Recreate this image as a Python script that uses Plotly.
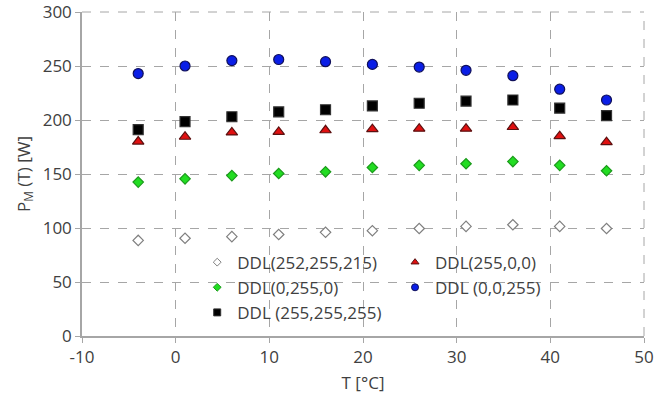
import plotly.graph_objects as go

T = [-4, 1, 6, 11, 16, 21, 26, 31, 36, 41, 46]
p_white = [88.5, 90.5, 92, 94, 96, 97.5, 99.5, 101.5, 103, 101.5, 99.5]
p_red = [180, 184.5, 188.5, 189, 190.5, 191.5, 192, 192, 193.5, 185, 179.5]
p_green = [142.5, 145.5, 148.5, 150.5, 152, 156, 158, 159.5, 161.5, 158, 153]
p_blue = [243, 250, 255, 256, 254, 251.5, 249, 246, 241, 228.5, 218.5]
p_black = [191, 198.5, 203, 207.5, 209.5, 213, 215.5, 217.5, 218.5, 211, 204]

names = ["DDL(252,255,215)", "DDL(255,0,0)", "DDL(0,255,0)", "DDL (0,0,255)", "DDL (255,255,255)"]

x_tickvals = [-10, 0, 10, 20, 30, 40, 50]
x_ticktext = ["-10", "0", "10", "20", "30", "40", "50"]
y_tickvals = [0, 50, 100, 150, 200, 250, 300]
y_ticktext = ["0", "50", "100", "150", "200", "250", "300"]

FONT = "Open Sans"
TXT = "#404040"
GRID = "#a6a6a6"

series = [
    # values, name, legend, symbol, size, fill, outline, legend marker size
    (p_white, names[0], "legend", "diamond", 8, "white", "#7f7f7f", 6),
    (p_green, names[2], "legend", "diamond", 8, "#22dd22", "#1a9a1a", 6),
    (p_black, names[4], "legend", "square", 10, "black", "#333333", 7),
    (p_red, names[1], "legend2", "triangle-up", 10, "#e01010", "#5a1010", 7),
    (p_blue, names[3], "legend2", "circle", 10, "#0a1ee6", "#10105a", 7),
]

fig = go.Figure()
for vals, nm, lg, sym, sz, fill, outl, lsz in series:
    fig.add_trace(go.Scatter(x=T, y=vals, mode="markers", name=nm, showlegend=False,
                             marker=dict(symbol=sym, size=sz, color=fill,
                                         line=dict(color=outl, width=1.2))))
for vals, nm, lg, sym, sz, fill, outl, lsz in series:
    # legend-only entry with the small legend symbol size
    fig.add_trace(go.Scatter(x=[None], y=[None], mode="markers", name=nm, legend=lg,
                             marker=dict(symbol=sym, size=lsz, color=fill,
                                         line=dict(color=outl, width=1))))

legend_common = dict(bgcolor="rgba(0,0,0,0)", font=dict(family=FONT, size=17, color=TXT),
                     itemsizing="trace", tracegroupgap=0, xanchor="left", yanchor="top",
                     itemwidth=30)

fig.update_layout(
    width=670, height=403,
    margin=dict(l=82, r=26, t=12, b=67, autoexpand=False),
    paper_bgcolor="white", plot_bgcolor="white",
    font=dict(family=FONT, size=17, color=TXT),
    showlegend=True,
    legend=dict(x=0.205, y=0.282, **legend_common),
    legend2=dict(x=0.557, y=0.282, **legend_common),
    xaxis=dict(range=[-10, 50], tickmode="array", tickvals=x_tickvals, ticktext=x_ticktext,
               automargin=False, ticklabeloverflow="allow",
               showgrid=True, gridcolor=GRID, griddash="dash", gridwidth=1,
               showline=True, linecolor=GRID, linewidth=1.5,
               ticks="outside", ticklen=5, tickcolor=GRID,
               zeroline=False, title=dict(text="T [°C]", font=dict(size=17, color=TXT), standoff=10),
               tickfont=dict(size=17, color=TXT)),
    yaxis=dict(range=[0, 300], tickmode="array", tickvals=y_tickvals, ticktext=y_ticktext,
               automargin=False, ticklabeloverflow="allow",
               showgrid=True, gridcolor=GRID, griddash="dash", gridwidth=1,
               showline=True, linecolor=GRID, linewidth=1.5,
               ticks="outside", ticklen=5, tickcolor=GRID,
               zeroline=False, title=dict(text="P<sub>M</sub> (T) [W]", font=dict(size=17, color=TXT), standoff=8),
               tickfont=dict(size=17, color=TXT)),
)

# dashed right and top borders
fig.add_shape(type="line", xref="paper", yref="paper", x0=1, x1=1, y0=0, y1=1,
              line=dict(color=GRID, width=1, dash="dash"))
fig.add_shape(type="line", xref="paper", yref="paper", x0=0, x1=1, y0=1, y1=1,
              line=dict(color=GRID, width=1, dash="dash"))

fig.write_html("out.html")
